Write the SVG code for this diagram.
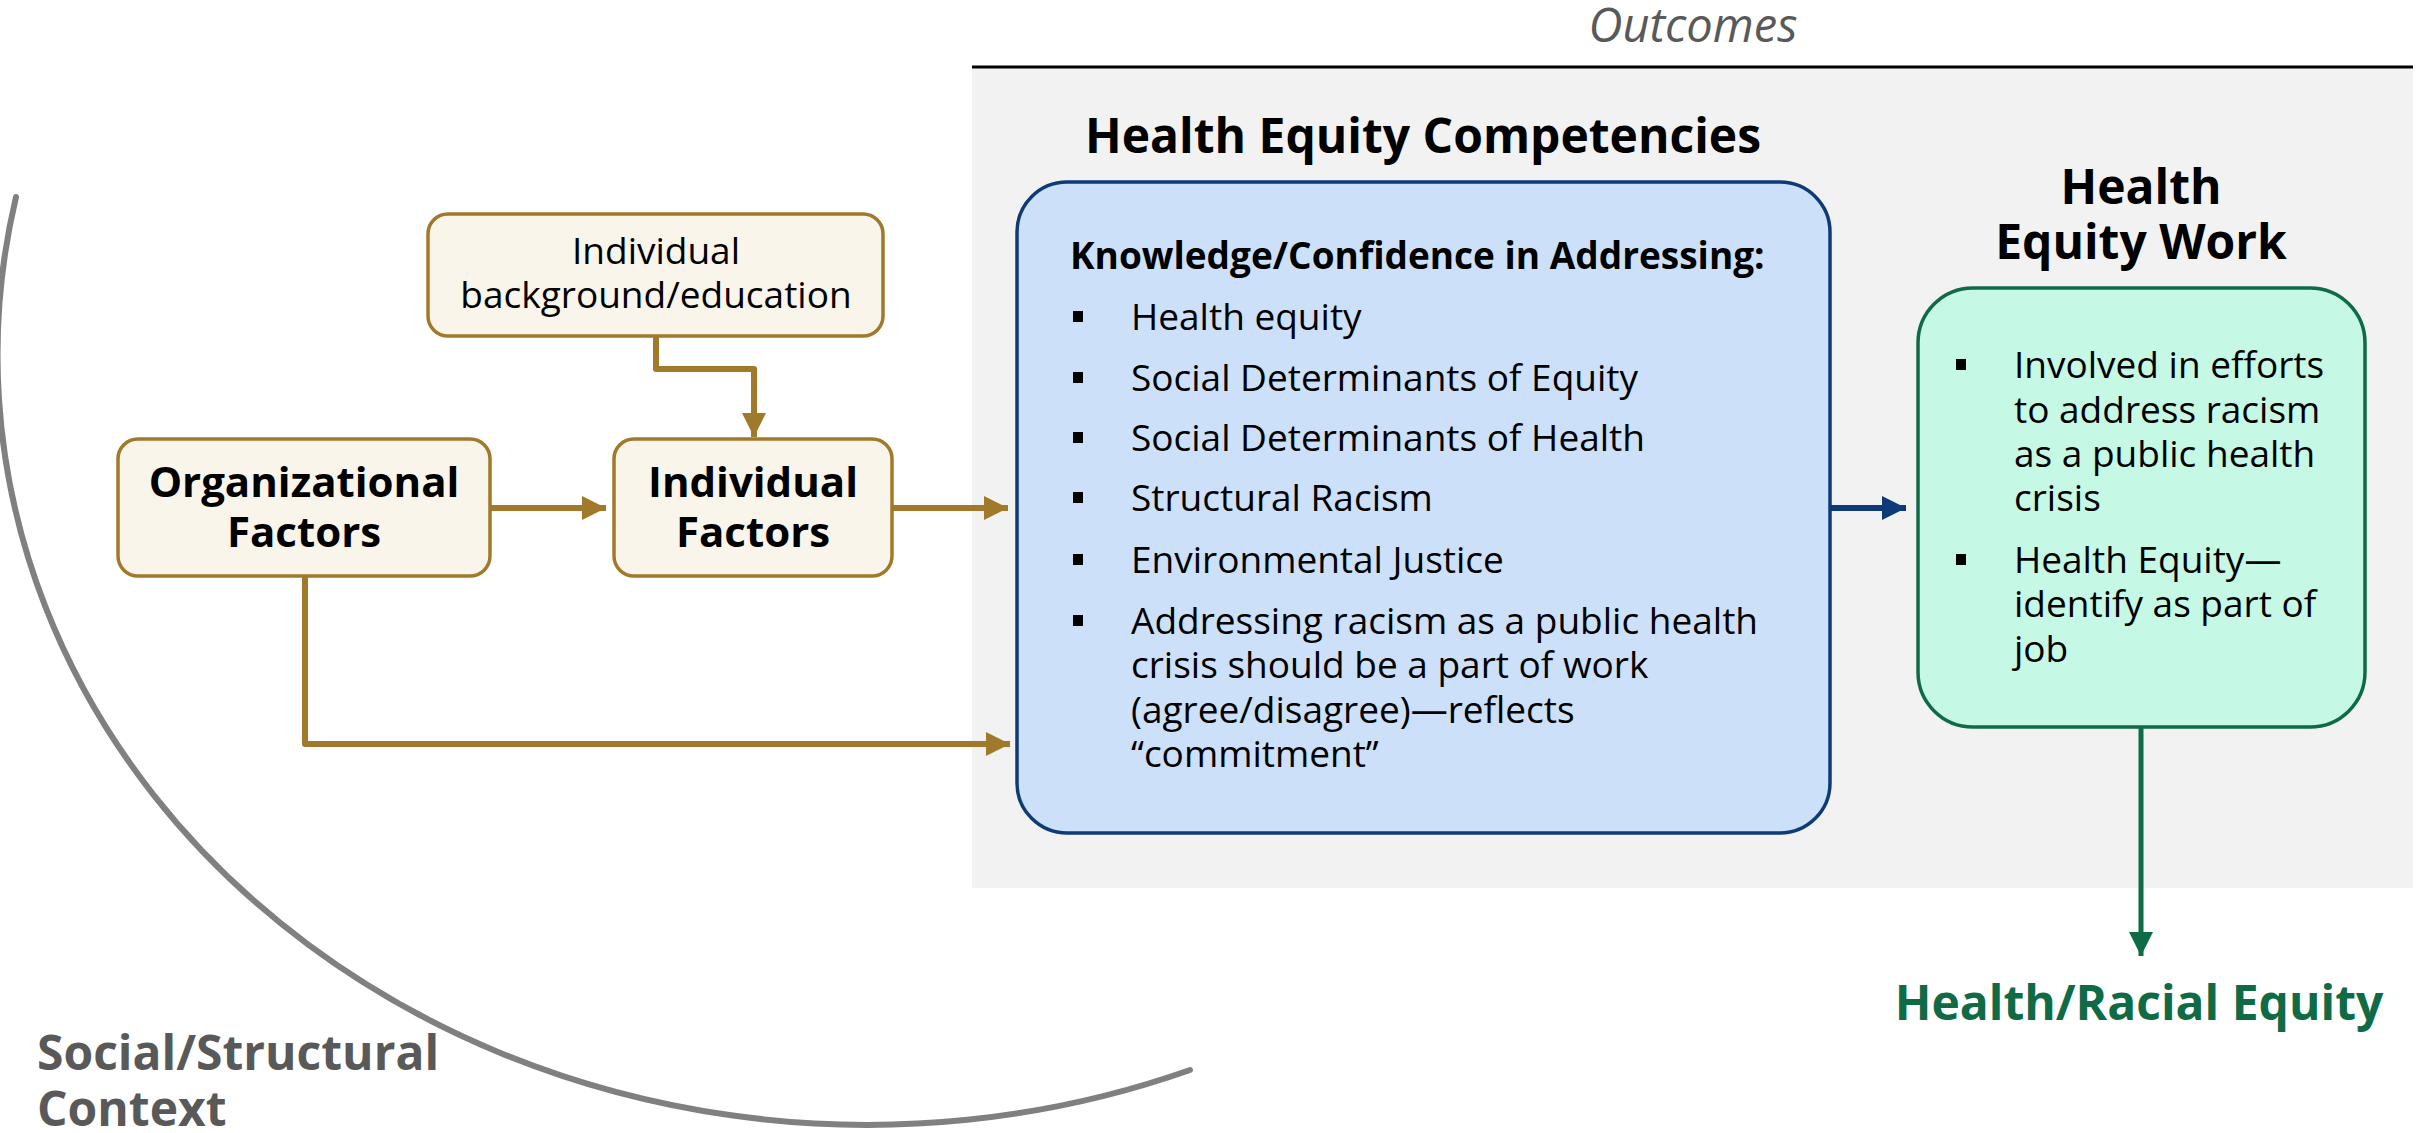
<svg xmlns="http://www.w3.org/2000/svg" width="2425" height="1133" viewBox="0 0 2425 1133">
  <style>
    text { font-family: "Open Sans", "Liberation Sans", sans-serif; fill: #000; }
    .b { font-weight: 700; }
    .mid { text-anchor: middle; }
    .title { font-size: 48px; font-weight: 700; }
    .item { font-size: 37px; }
    .boxlbl { font-size: 42px; font-weight: 700; }
    .tan { fill: #f9f5eb; stroke: #a07a2a; stroke-width: 3.5; }
    .gold { fill: none; stroke: #a07a2a; stroke-width: 6; stroke-linejoin: round; }
    .navy { fill: none; stroke: #0e3b78; stroke-width: 6; }
    .dgreen { fill: none; stroke: #0f6b46; stroke-width: 5; }
    .dot { fill: #000; }
  </style>
  <defs>
    <marker id="arrGold" markerUnits="userSpaceOnUse" markerWidth="24" markerHeight="24" refX="24" refY="12" orient="auto">
      <path d="M0,0 L24,12 L0,24 Z" fill="#a07a2a"/>
    </marker>
    <marker id="arrNavy" markerUnits="userSpaceOnUse" markerWidth="24" markerHeight="24" refX="24" refY="12" orient="auto">
      <path d="M0,0 L24,12 L0,24 Z" fill="#0e3b78"/>
    </marker>
    <marker id="arrGreen" markerUnits="userSpaceOnUse" markerWidth="24" markerHeight="24" refX="24" refY="12" orient="auto">
      <path d="M0,0 L24,12 L0,24 Z" fill="#0f6b46"/>
    </marker>
  </defs>

  <rect width="2425" height="1133" fill="#fff"/>

  <!-- outcomes panel -->
  <g id="outcomes-panel">
    <rect x="972" y="67" width="1441" height="821" fill="#f2f2f2"/>
    <line x1="972" y1="67" x2="2413" y2="67" stroke="#000" stroke-width="3"/>
    <text x="1693" y="42" class="mid" font-size="47" font-style="italic" style="fill:#595959">Outcomes</text>
  </g>

  <!-- social / structural context arc -->
  <g id="context">
    <path d="M16,197 A870,770 0 0 0 1190,1070" fill="none" stroke="#808080" stroke-width="6" stroke-linecap="round"/>
    <text x="37" y="1070" font-size="48" class="b" style="fill:#595959">Social/Structural</text>
    <text x="37" y="1126" font-size="48" class="b" style="fill:#595959">Context</text>
  </g>

  <!-- connectors -->
  <g id="connectors">
    <path class="gold" d="M656,336 V369 H754 V437" marker-end="url(#arrGold)"/>
    <path class="gold" d="M490,508 H606" marker-end="url(#arrGold)"/>
    <path class="gold" d="M892,508 H1008" marker-end="url(#arrGold)"/>
    <path class="gold" d="M305,576 V744 H1010" marker-end="url(#arrGold)"/>
    <path class="navy" d="M1830,508 H1906" marker-end="url(#arrNavy)"/>
    <path class="dgreen" d="M2141,727 V956" marker-end="url(#arrGreen)"/>
  </g>

  <g id="node-background">
    <rect class="tan" x="428" y="214" width="455" height="122" rx="20"/>
    <text x="656" y="264" class="mid item">Individual</text>
    <text x="656" y="308" class="mid item">background/education</text>
  </g>

  <g id="node-organizational">
    <rect class="tan" x="118" y="439" width="372" height="137" rx="20"/>
    <text x="304" y="497" class="mid boxlbl">Organizational</text>
    <text x="304" y="547" class="mid boxlbl">Factors</text>
  </g>

  <g id="node-individual">
    <rect class="tan" x="614" y="439" width="278" height="137" rx="20"/>
    <text x="753" y="497" class="mid boxlbl">Individual</text>
    <text x="753" y="547" class="mid boxlbl">Factors</text>
  </g>

  <g id="node-competencies">
    <text x="1423" y="153" class="mid title">Health Equity Competencies</text>
    <rect x="1017" y="182" width="813" height="651" rx="50" fill="#cce1f9" stroke="#0e3b78" stroke-width="3.5"/>
    <text x="1070" y="269" font-size="37" class="b">Knowledge/Confidence in Addressing:</text>
    <rect class="dot" x="1073" y="311" width="10" height="11"/>
    <text x="1131" y="330" class="item">Health equity</text>
    <rect class="dot" x="1073" y="372" width="10" height="11"/>
    <text x="1131" y="391" class="item">Social Determinants of Equity</text>
    <rect class="dot" x="1073" y="432" width="10" height="11"/>
    <text x="1131" y="451" class="item">Social Determinants of Health</text>
    <rect class="dot" x="1073" y="492" width="10" height="11"/>
    <text x="1131" y="511" class="item">Structural Racism</text>
    <rect class="dot" x="1073" y="554" width="10" height="11"/>
    <text x="1131" y="573" class="item">Environmental Justice</text>
    <rect class="dot" x="1073" y="615" width="10" height="11"/>
    <text x="1131" y="634" class="item">Addressing racism as a public health</text>
    <text x="1131" y="678" class="item">crisis should be a part of work</text>
    <text x="1131" y="723" class="item">(agree/disagree)—reflects</text>
    <text x="1131" y="767" class="item">“commitment”</text>
  </g>

  <g id="node-work">
    <text x="2141" y="204" class="mid title">Health</text>
    <text x="2141" y="259" class="mid title">Equity Work</text>
    <rect x="1918" y="288" width="447" height="439" rx="55" fill="#c5f9e5" stroke="#0f6b46" stroke-width="3.5"/>
    <rect class="dot" x="1956" y="359" width="10" height="11"/>
    <text x="2014" y="378" class="item">Involved in efforts</text>
    <text x="2014" y="423" class="item">to address racism</text>
    <text x="2014" y="467" class="item">as a public health</text>
    <text x="2014" y="511" class="item">crisis</text>
    <rect class="dot" x="1956" y="554" width="10" height="11"/>
    <text x="2014" y="573" class="item">Health Equity—</text>
    <text x="2014" y="617" class="item">identify as part of</text>
    <text x="2014" y="662" class="item">job</text>
  </g>

  <g id="node-equity">
    <text x="2139" y="1020" class="mid b" font-size="48" style="fill:#0f6b46">Health/Racial Equity</text>
  </g>
</svg>
